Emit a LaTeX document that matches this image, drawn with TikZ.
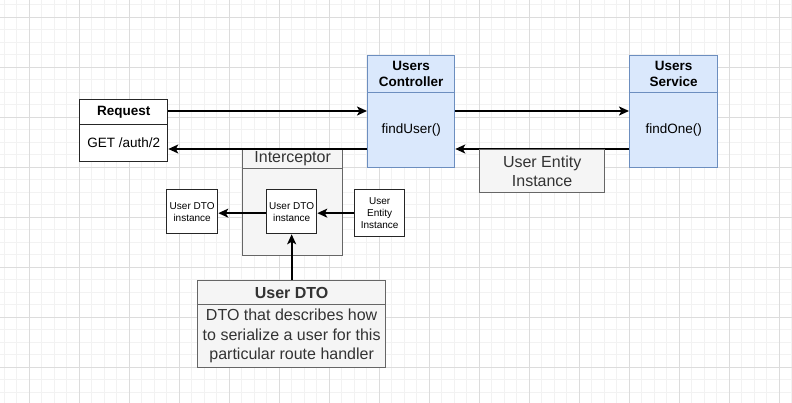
\documentclass[tikz,border=0pt]{standalone}
\usepackage{fontspec}
\setmainfont{Liberation Sans}
\usepackage{xcolor}
\usetikzlibrary{arrows.meta}
\definecolor{blueFill}{HTML}{DAE8FC}
\definecolor{blueLine}{HTML}{6C8EBF}
\definecolor{grayFill}{HTML}{F5F5F5}
\definecolor{grayLine}{HTML}{666666}
\definecolor{grayText}{HTML}{333333}
\definecolor{gridMinor}{HTML}{F2F2F2}
\definecolor{gridMajor}{HTML}{DCDCDC}

\tikzset{
  box/.style={draw,rectangle,anchor=north west,line width=1.3pt,inner sep=0pt,align=center},
  plain/.style={box,fill=white,draw=black!85},
  blue/.style={box,fill=blueFill,draw=blueLine},
  gray/.style={box,fill=grayFill,draw=grayLine,text=grayText},
  arr/.style={-{Stealth[length=10pt,width=9pt,inset=2.5pt]},line width=1.7pt},
  mid/.style={font=\fontsize{13.5}{16}\selectfont},
  big/.style={font=\fontsize{16}{19.5}\selectfont},
  tiny/.style={font=\fontsize{10}{12}\selectfont},
}

\begin{document}
\begin{tikzpicture}[x=1pt,y=-1pt]
\useasboundingbox (0,0) rectangle (792,403);

% grid
\fill[white] (0,0) rectangle (792,403);
\foreach \i in {0,...,63} {
  \draw[gridMinor,line width=0.8pt] (4.3+12.5*\i,0) -- (4.3+12.5*\i,403);
}
\foreach \i in {0,...,32} {
  \draw[gridMinor,line width=0.8pt] (0,4.8+12.5*\i) -- (792,4.8+12.5*\i);
}
\foreach \i in {0,...,15} {
  \draw[gridMajor,line width=0.8pt] (29.3+50*\i,0) -- (29.3+50*\i,403);
}
\foreach \i in {0,...,7} {
  \draw[gridMajor,line width=0.8pt] (0,17.3+50*\i) -- (792,17.3+50*\i);
}

\coordinate (fwd) at (0,111);
\coordinate (back) at (0,149);

% request
\node[plain,mid,minimum width=88pt,minimum height=25pt] (reqhead) at (79,99) {\bfseries Request};
\node[plain,mid,minimum width=88pt,minimum height=37pt] (reqbody) at (79,124) {GET /auth/2};

% controller
\node[blue,mid,minimum width=87pt,minimum height=37pt] (ctrlhead) at (367,55) {\bfseries Users\\\bfseries Controller};
\node[blue,mid,minimum width=87pt,minimum height=75pt] (ctrlbody) at (367,92) {findUser()};

% service
\node[blue,mid,minimum width=88pt,minimum height=37pt] (svchead) at (629,55) {\bfseries Users\\\bfseries Service};
\node[blue,mid,minimum width=88pt,minimum height=75pt] (svcbody) at (629,92) {findOne()};

% interceptor
\node[gray,big,minimum width=100pt,minimum height=19pt] (icpthead) at (242,149) {Interceptor};
\node[gray,minimum width=100pt,minimum height=87pt] (icptbody) at (242,168) {};

\node[plain,tiny,minimum width=50pt,minimum height=44pt] (dtoin) at (266,189) {User DTO\\instance};
\node[plain,tiny,minimum width=51pt,minimum height=44pt] (dtoout) at (166,189) {User DTO\\instance};
\node[plain,tiny,minimum width=50pt,minimum height=47pt] (entity) at (354,189) {User\\Entity\\Instance};

% user dto
\node[gray,big,minimum width=188pt,minimum height=24pt] (dtohead) at (197,280) {\bfseries User DTO};
\node[gray,big,minimum width=188pt,minimum height=63pt] (dtobody) at (197,304) {DTO that describes how\\to serialize a user for this\\particular route handler};

% arrows
\draw[arr] (reqhead.east |- fwd) -- (ctrlbody.west |- fwd);
\draw[arr] (ctrlbody.east |- fwd) -- (svcbody.west |- fwd);
\draw[arr] (svcbody.west |- back) -- (ctrlbody.east |- back);
\draw[arr] (ctrlbody.west |- back) -- (reqbody.east |- back);
\draw[arr] (entity.west) -- (entity.west -| dtoin.east);
\draw[arr] (dtoin.west |- entity.west) -- (entity.west -| dtoout.east);
\draw[arr] (dtohead.north -| dtoin.south) -- (dtoin.south);

% label on the return arrow
\node[gray,big,minimum width=125pt,minimum height=43pt] (entlabel) at (479,149) {User Entity\\Instance};
\end{tikzpicture}
\end{document}
